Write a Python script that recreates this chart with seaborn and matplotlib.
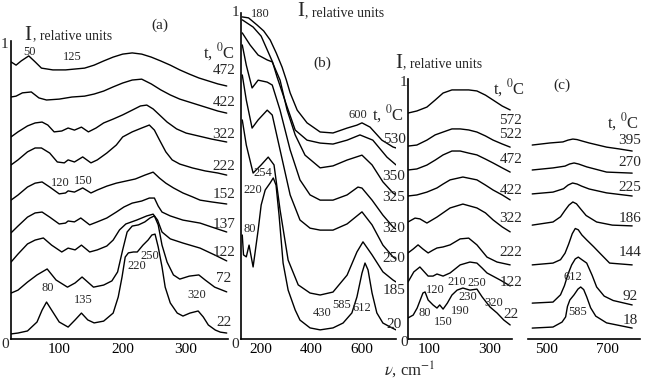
import numpy as np
import pandas as pd
import seaborn as sns
import matplotlib.pyplot as plt

sns.set_style('white')
plt.rcParams['font.family'] = ['Liberation Serif', 'DejaVu Serif']
plt.rcParams['mathtext.fontset'] = 'stix'

# ---------- panel (a): wavenumber (cm-1) and relative intensity ----------
a472_x = [24, 32, 40, 52, 62, 72, 90, 110, 125, 140, 155, 170, 185, 200, 215, 230, 245, 260, 275, 290, 305, 320, 335, 350, 364]
a472_y = [.930, .919, .933, .950, .930, .909, .903, .903, .906, .909, .919, .933, .946, .956, .960, .956, .946, .933, .919, .903, .889, .876, .866, .856, .849]
a422_x = [24, 32, 42, 56, 68, 80, 100, 120, 140, 155, 170, 185, 200, 215, 230, 245, 260, 275, 290, 305, 320, 335, 350, 364]
a422_y = [.812, .815, .826, .829, .809, .802, .805, .812, .815, .822, .832, .846, .859, .869, .872, .856, .836, .819, .805, .795, .785, .775, .765, .758]
a322_x = [24, 35, 50, 62, 73, 82, 92, 104, 114, 124, 135, 146, 158, 170, 185, 200, 215, 228, 238, 248, 258, 270, 285, 300, 320, 340, 364]
a322_y = [.678, .695, .715, .725, .728, .718, .695, .698, .708, .701, .711, .695, .708, .725, .738, .752, .768, .782, .785, .772, .752, .728, .705, .691, .681, .671, .661]
a222_x = [24, 35, 50, 62, 72, 85, 97, 108, 114, 124, 137, 150, 160, 175, 190, 200, 215, 230, 242, 250, 258, 268, 278, 290, 310, 330, 350, 364]
a222_y = [.584, .601, .628, .641, .641, .624, .594, .591, .601, .594, .611, .591, .601, .624, .651, .678, .695, .708, .718, .701, .668, .628, .601, .587, .574, .564, .557, .550]
a152_x = [24, 35, 50, 62, 73, 85, 100, 110, 114, 124, 137, 150, 160, 175, 190, 205, 220, 235, 248, 258, 268, 280, 295, 310, 322, 340, 364]
a152_y = [.466, .483, .510, .523, .527, .510, .487, .490, .497, .493, .507, .490, .500, .513, .523, .530, .537, .550, .560, .540, .523, .507, .490, .477, .466, .460, .453]
a137_x = [24, 35, 50, 62, 73, 85, 100, 110, 114, 124, 134, 148, 160, 175, 190, 202, 215, 230, 242, 250, 256, 262, 275, 295, 322, 340, 364]
a137_y = [.356, .379, .409, .423, .426, .409, .386, .389, .396, .393, .406, .383, .393, .406, .426, .443, .456, .463, .473, .473, .446, .426, .413, .399, .389, .376, .359]
a122_x = [24, 35, 50, 62, 75, 88, 104, 114, 125, 135, 148, 160, 175, 185, 195, 205, 222, 238, 248, 255, 262, 275, 295, 322, 345, 364]
a122_y = [.258, .285, .319, .332, .339, .315, .292, .305, .299, .315, .292, .299, .312, .332, .366, .386, .399, .413, .419, .399, .359, .336, .322, .305, .282, .262]
a72_x = [24, 35, 50, 65, 81, 95, 113, 125, 136, 154, 170, 183, 192, 200, 207, 215, 225, 235, 243, 250, 256, 262, 270, 280, 290, 305, 320, 330, 345, 364]
a72_y = [.154, .164, .191, .215, .235, .198, .174, .188, .208, .174, .181, .195, .225, .299, .359, .379, .383, .393, .406, .413, .383, .315, .258, .215, .201, .211, .215, .198, .174, .158]
a22_x = [24, 35, 50, 65, 73, 80, 88, 100, 114, 125, 135, 145, 155, 170, 185, 193, 199, 204, 209, 217, 223, 232, 240, 246, 251, 256, 262, 267, 275, 286, 295, 306, 319, 327, 335, 346, 354, 364]
a22_y = [.017, .020, .027, .057, .097, .124, .097, .057, .040, .064, .087, .064, .054, .060, .087, .141, .208, .275, .289, .292, .292, .315, .332, .349, .352, .309, .242, .174, .121, .087, .077, .087, .094, .074, .047, .030, .023, .020]

# ---------- panel (b) ----------
b530_x = [125, 150, 184, 210, 236, 260, 283, 300, 315, 343, 382, 434, 485, 541, 580, 600, 632, 679, 723, 735]
b530_y = [.988, .985, .963, .945, .917, .877, .834, .794, .755, .702, .663, .635, .632, .647, .656, .663, .650, .610, .589, .586]
b350_x = [125, 168, 200, 224, 245, 263, 283, 303, 335, 382, 434, 485, 541, 592, 643, 699, 735]
b350_y = [.979, .957, .929, .887, .850, .804, .758, .712, .641, .610, .601, .598, .610, .626, .610, .558, .534]
b325_x = [125, 156, 188, 224, 244, 275, 303, 335, 374, 434, 485, 541, 600, 640, 683, 723, 735]
b325_y = [.939, .902, .871, .856, .850, .794, .702, .626, .564, .525, .531, .549, .564, .534, .482, .448, .442]
b320_x = [125, 141, 164, 188, 224, 244, 275, 315, 354, 394, 434, 485, 541, 584, 600, 640, 683, 723, 735]
b320_y = [.902, .840, .770, .794, .788, .779, .702, .580, .488, .442, .426, .426, .442, .466, .463, .426, .380, .344, .337]
b250_x = [125, 141, 164, 188, 224, 244, 275, 315, 354, 394, 434, 485, 541, 600, 640, 683, 723, 735]
b250_y = [.810, .733, .647, .672, .702, .687, .580, .442, .365, .340, .334, .334, .353, .390, .350, .288, .252, .245]
b185_x = [125, 141, 168, 200, 228, 251, 275, 307, 347, 394, 434, 485, 541, 580, 604, 640, 683, 723, 735]
b185_y = [.672, .595, .509, .534, .558, .534, .396, .242, .166, .141, .135, .144, .196, .267, .298, .258, .206, .181, .175]
b20_x = [125, 130, 141, 152, 168, 188, 200, 216, 236, 248, 259, 271, 287, 307, 335, 354, 394, 434, 485, 525, 560, 580, 600, 612, 624, 640, 659, 683, 719, 735]
b20_y = [.319, .258, .252, .288, .221, .334, .411, .457, .479, .494, .472, .380, .233, .150, .089, .058, .034, .028, .034, .049, .080, .129, .202, .233, .212, .141, .080, .049, .034, .028]

# ---------- panel (c), left part ----------
c572_x = [31, 60, 93, 120, 146, 175, 202, 230, 257, 285, 310, 340, 366]
c572_y = [.869, .877, .892, .919, .946, .958, .958, .958, .954, .938, .919, .896, .881]
c522_x = [31, 60, 93, 120, 146, 175, 202, 230, 257, 285, 310, 340, 366]
c522_y = [.742, .746, .765, .785, .796, .808, .808, .804, .796, .781, .765, .750, .738]
c472_x = [31, 60, 93, 120, 146, 175, 202, 230, 257, 285, 310, 340, 366]
c472_y = [.650, .654, .669, .688, .708, .723, .723, .715, .708, .692, .677, .658, .642]
c422_x = [31, 60, 93, 126, 146, 169, 211, 257, 285, 310, 340, 366]
c422_y = [.550, .554, .565, .581, .596, .612, .623, .612, .592, .573, .554, .535]
c322_x = [31, 54, 70, 93, 126, 169, 211, 257, 285, 310, 340, 366]
c322_y = [.450, .465, .462, .446, .469, .504, .519, .504, .485, .458, .431, .412]
c222_x = [31, 48, 64, 80, 97, 113, 126, 146, 169, 202, 230, 257, 290, 323, 366]
c222_y = [.331, .346, .362, .346, .331, .342, .350, .354, .362, .385, .388, .362, .315, .296, .285]
c122_x = [31, 50, 70, 97, 113, 126, 146, 169, 202, 234, 257, 274, 290, 333, 366]
c122_y = [.219, .258, .277, .242, .242, .250, .242, .254, .285, .296, .292, .273, .254, .227, .204]
c22_x = [31, 48, 61, 80, 87, 97, 113, 126, 135, 146, 160, 175, 192, 211, 234, 257, 274, 300, 323, 345, 366]
c22_y = [.081, .092, .119, .177, .181, .150, .131, .119, .131, .115, .138, .169, .188, .196, .188, .192, .162, .123, .100, .073, .054]

# ---------- panel (c), right part ----------
d395_x = [451, 510, 553, 570, 586, 600, 615, 640, 698, 740, 783]
d395_y = [.746, .754, .758, .765, .769, .767, .762, .754, .738, .731, .723]
d270_x = [451, 520, 560, 575, 590, 605, 632, 698, 783]
d270_y = [.650, .658, .665, .673, .677, .673, .662, .642, .638]
d225_x = [451, 520, 555, 570, 585, 600, 615, 640, 698, 783]
d225_y = [.558, .565, .578, .592, .600, .596, .588, .577, .562, .550]
d186_x = [451, 520, 545, 560, 573, 586, 598, 612, 630, 665, 717, 783]
d186_y = [.438, .450, .470, .495, .515, .527, .520, .500, .475, .450, .438, .435]
d144_x = [451, 520, 545, 560, 572, 584, 594, 604, 616, 632, 655, 675, 708, 783]
d144_y = [.285, .292, .305, .330, .365, .405, .425, .420, .400, .381, .355, .331, .292, .285]
d92_x = [451, 520, 545, 558, 570, 582, 594, 604, 616, 632, 650, 665, 690, 720, 783]
d92_y = [.138, .142, .170, .205, .250, .285, .308, .315, .305, .292, .245, .200, .165, .148, .131]
d18_x = [451, 520, 550, 562, 568, 576, 590, 603, 612, 622, 632, 645, 662, 698, 783]
d18_y = [.042, .046, .065, .085, .125, .150, .170, .192, .200, .190, .162, .120, .088, .062, .042]

W, H = 651, 387
fig = plt.figure(figsize=(W / 100, H / 100), dpi=100)


def box(l, r, t, b):
    return [l / W, 1 - b / H, (r - l) / W, (b - t) / H]


def txt(x, y, s, size=9, ha='center', va='center', **kw):
    fig.text(x / W, 1 - y / H, s, fontsize=size, ha=ha, va=va, **kw)


ax_a = fig.add_axes(box(11, 228, 41, 339))
ax_b = fig.add_axes(box(241, 396, 13, 339))
ax_c = fig.add_axes(box(408, 512, 79, 339))
ax_d = fig.add_axes(box(528, 640, 79, 339))

panels = [
    (ax_a, [(a472_x, a472_y), (a422_x, a422_y), (a322_x, a322_y), (a222_x, a222_y), (a152_x, a152_y),
            (a137_x, a137_y), (a122_x, a122_y), (a72_x, a72_y), (a22_x, a22_y)], (24, 366), [100, 200, 300]),
    (ax_b, [(b530_x, b530_y), (b350_x, b350_y), (b325_x, b325_y), (b320_x, b320_y), (b250_x, b250_y),
            (b185_x, b185_y), (b20_x, b20_y)], (120, 735), [200, 400, 600]),
    (ax_c, [(c572_x, c572_y), (c522_x, c522_y), (c472_x, c472_y), (c422_x, c422_y), (c322_x, c322_y),
            (c222_x, c222_y), (c122_x, c122_y), (c22_x, c22_y)], (31, 372), [100, 300]),
    (ax_d, [(d395_x, d395_y), (d270_x, d270_y), (d225_x, d225_y), (d186_x, d186_y), (d144_x, d144_y),
            (d92_x, d92_y), (d18_x, d18_y)], (437, 809), [500, 700]),
]

for ax, curves, xl, xt in panels:
    for xs, ys in curves:
        sns.lineplot(x=xs, y=ys, ax=ax, color='black', lw=1.0, estimator=None)
    ax.set_xlim(*xl)
    ax.set_ylim(0, 1)
    ax.set_xticks(xt)
    ax.set_xticklabels([str(t) for t in xt], fontsize=11)
    ax.set_yticks([1])
    ax.set_yticklabels([])
    ax.tick_params(axis='x', direction='in', length=5, width=1, pad=3, colors='black')
    ax.tick_params(axis='y', direction='in', length=7, width=1, colors='black')
    for s in ['top', 'right']:
        ax.spines[s].set_visible(False)
    for s in ['left', 'bottom']:
        ax.spines[s].set_color('black')
        ax.spines[s].set_linewidth(1.2)
    ax.set_facecolor('none')

ax_d.spines['left'].set_visible(False)
ax_d.set_yticks([])

tC = r't, $^{0}$C'

# panel (a) texts
txt(4, 44, '1', 11)
txt(5, 345, '0', 11)
txt(24, 35, 'I', 15, ha='left')
txt(33, 36, ', relative units', 10, ha='left')
txt(160, 25, '(a)', 11)
txt(203, 52, tC, 12, ha='left')
for lab, y in zip(['472', '422', '322', '222', '152', '137', '122', '72', '22'],
                  [71, 102, 135, 167, 195, 225, 252, 278, 322]):
    txt(224, y, lab, 11)
for lab, x, y in [('50', 30, 52), ('125', 72, 57), ('120', 60, 183), ('150', 83, 181), ('80', 48, 288),
                  ('135', 83, 300), ('220', 137, 266), ('250', 150, 256), ('320', 197, 295)]:
    txt(x, y, lab, 9)

# panel (b) texts
txt(235, 13, '1', 11)
txt(235, 345, '0', 11)
txt(260, 14, '180', 9)
txt(297, 12, 'I', 15, ha='left')
txt(305, 13, ', relative units', 10, ha='left')
txt(322, 63, '(b)', 11)
txt(358, 115, '600', 9)
txt(372, 114, tC, 12, ha='left')
for lab, y in zip(['530', '350', '325', '320', '250', '185', '20'], [139, 177, 197, 228, 259, 290, 325]):
    txt(394, y, lab, 11)
for lab, x, y in [('254', 263, 173), ('220', 253, 190), ('80', 250, 229), ('430', 322, 313),
                  ('585', 342, 305), ('612', 362, 308)]:
    txt(x, y, lab, 9)

# panel (c) texts
txt(403, 82, '1', 11)
txt(404, 343, '0', 11)
txt(395, 63, 'I', 15, ha='left')
txt(403, 64, ', relative units', 10, ha='left')
txt(493, 88, tC, 12, ha='left')
txt(562, 85, '(c)', 11)
txt(607, 122, tC, 12, ha='left')
for lab, y in zip(['572', '522', '472', '422', '322', '222', '122', '22'], [120, 135, 160, 190, 218, 253, 283, 314]):
    txt(511, y, lab, 11)
for lab, x, y in [('80', 425, 313), ('120', 435, 290), ('150', 443, 322), ('190', 460, 311), ('210', 457, 282),
                  ('230', 468, 297), ('250', 477, 283), ('320', 494, 303)]:
    txt(x, y, lab, 9)
for lab, y in zip(['395', '270', '225', '186', '144', '92', '18'], [140, 163, 187, 218, 253, 297, 320]):
    txt(630, y, lab, 11)
txt(573, 277, '612', 9)
txt(578, 312, '585', 9)

txt(384, 370, r'$\nu$, cm$^{-1}$', 12, ha='left')

fig.savefig('out.png', dpi=100)
